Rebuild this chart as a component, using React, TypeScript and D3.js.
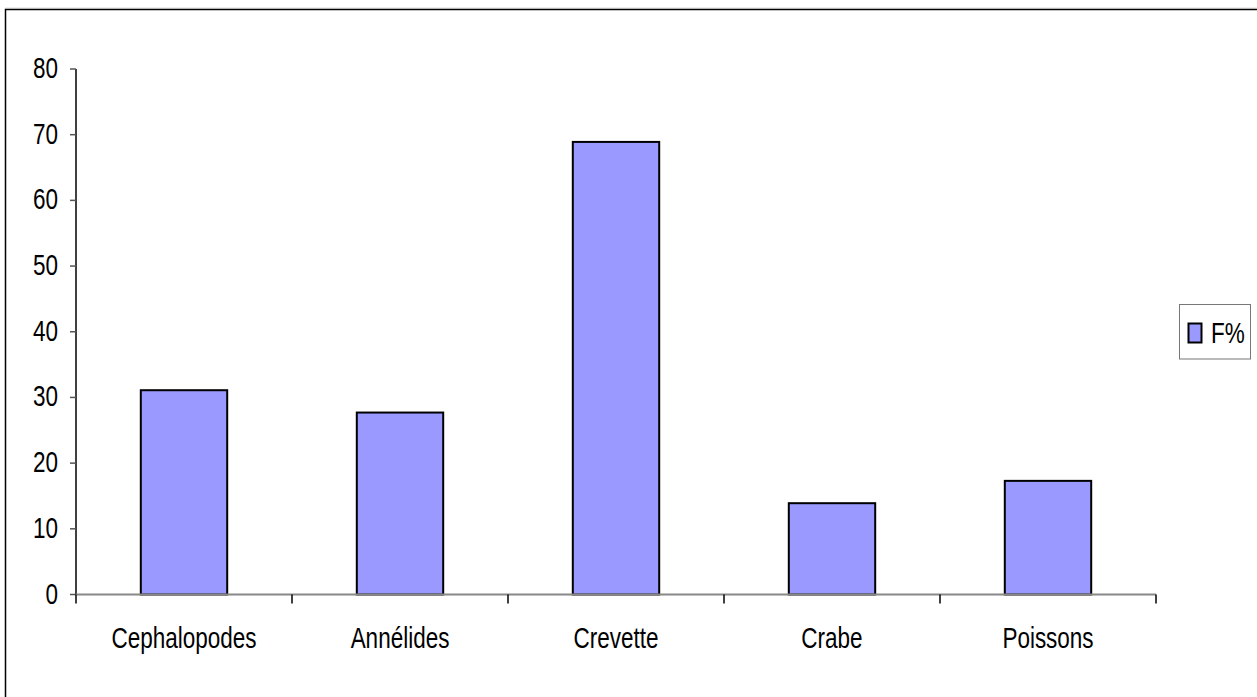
import React from "react";
import * as d3 from "d3";

// Diet composition: occurrence frequency (F%) of each prey group
const categories: string[] = ["Cephalopodes", "Annélides", "Crevette", "Crabe", "Poissons"];
const values: number[] = [31.1, 27.7, 68.9, 13.9, 17.3];
const yTicks: number[] = [0, 10, 20, 30, 40, 50, 60, 70, 80];
const seriesName = "F%";

const W = 1257;
const H = 697;
const plot = { left: 76, right: 1156, top: 69, bottom: 594.5 };
const FONT = "'Liberation Sans', Arial, sans-serif";
const FS = 30;
const SX = 0.75; // narrow face

function NarrowText(props: { x: number; y: number; anchor: string; children: React.ReactNode }) {
  return (
    <g transform={`translate(${props.x},${props.y}) scale(${SX},1)`}>
      <text x={0} y={0} textAnchor={props.anchor} fontFamily={FONT} fontSize={FS} fill="#000">
        {props.children}
      </text>
    </g>
  );
}

export default function App() {
  const x = d3.scaleBand<string>().domain(categories).range([plot.left, plot.right]).paddingInner(0).paddingOuter(0);
  const y = d3.scaleLinear().domain([0, 80]).range([plot.bottom, plot.top]);
  const band = x.bandwidth();
  const barW = band / 2.5; // 150% gap width
  const boundaries = [...categories.map((c) => x(c) as number), plot.right];

  return (
    <svg width={W} height={H} style={{ position: "absolute", left: 0, top: 0, display: "block", background: "#fff" }}>
      <rect x={0} y={0} width={W} height={H} fill="#fff" />
      <line x1={5} x2={W + 10} y1={8} y2={8} stroke="#ddd" strokeWidth={1} />
      <rect x={5.5} y={9.5} width={W + 20} height={H + 20} fill="none" stroke="#000" strokeWidth={1.5} />

      {/* bars */}
      {categories.map((c, i) => {
        const cx = (x(c) as number) + band / 2;
        return (
          <rect
            key={c}
            x={cx - barW / 2}
            y={y(values[i])}
            width={barW}
            height={y(0) - y(values[i])}
            fill="#9999FF"
            stroke="#000"
            strokeWidth={2}
          />
        );
      })}

      {/* y axis */}
      <line x1={plot.left} x2={plot.left} y1={plot.top} y2={plot.bottom} stroke="#000" strokeWidth={1.5} />
      {yTicks.map((t) => (
        <g key={t}>
          <line x1={plot.left - 6} x2={plot.left} y1={y(t)} y2={y(t)} stroke="#555" strokeWidth={1.5} />
          <NarrowText x={plot.left - 18} y={y(t) + 9} anchor="end">
            {t}
          </NarrowText>
        </g>
      ))}

      {/* x axis */}
      <line x1={plot.left} x2={plot.right} y1={plot.bottom} y2={plot.bottom} stroke="#888" strokeWidth={2} />
      {boundaries.map((b, i) => (
        <line key={i} x1={b} x2={b} y1={plot.bottom} y2={plot.bottom + 9} stroke="#000" strokeWidth={1.5} />
      ))}
      {categories.map((c) => (
        <NarrowText key={c} x={(x(c) as number) + band / 2} y={648} anchor="middle">
          {c}
        </NarrowText>
      ))}

      {/* legend */}
      <rect x={1179.5} y={304.5} width={71} height={54.5} fill="#fff" stroke="#777" strokeWidth={1} />
      <rect x={1188.5} y={323.5} width={13} height={19} fill="#9999FF" stroke="#000" strokeWidth={2} />
      <NarrowText x={1211} y={342.5} anchor="start">
        {seriesName}
      </NarrowText>
    </svg>
  );
}
